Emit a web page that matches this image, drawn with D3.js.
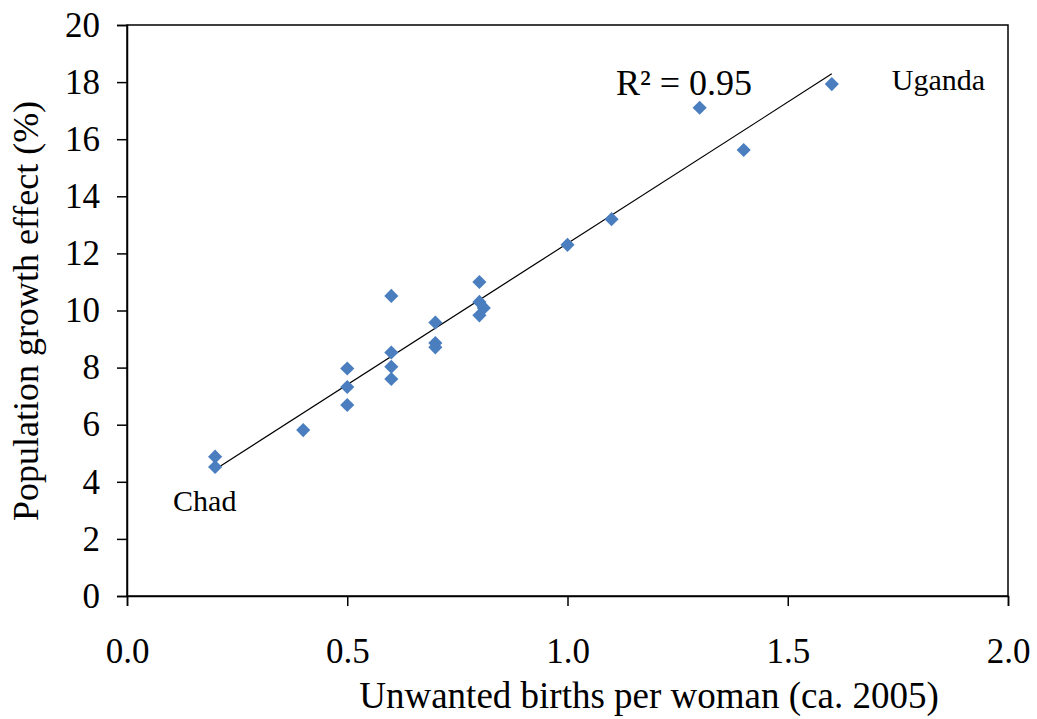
<!DOCTYPE html>
<html>
<head>
<meta charset="utf-8">
<script src="https://cdn.jsdelivr.net/npm/d3@7/dist/d3.min.js"></script>
<style>
  html, body { margin: 0; padding: 0; background: #fff; }
  svg text { font-family: "Liberation Serif", "Times New Roman", serif; fill: #000; }
</style>
</head>
<body>
<svg id="chart" width="1037" height="719"></svg>
<script>
// Data
const unwantedBirths = [0.2, 0.2, 0.4, 0.5, 0.5, 0.5, 0.6, 0.6, 0.6, 0.6, 0.7, 0.7, 0.7, 0.8, 0.8, 0.81, 0.8, 1.0, 1.1, 1.3, 1.4, 1.6];
const growthEffect   = [4.88, 4.52, 5.81, 7.97, 7.32, 6.69, 10.51, 8.53, 8.03, 7.60, 9.58, 8.86, 8.71, 11.0, 10.3, 10.09, 9.83, 12.3, 13.2, 17.1, 15.62, 17.93];
const xTicks = [0.0, 0.5, 1.0, 1.5, 2.0];
const yTicks = [0, 2, 4, 6, 8, 10, 12, 14, 16, 18, 20];
const labels = [
  { name: "Chad", x: 0.2, y: 4.52 },
  { name: "Uganda", x: 1.6, y: 17.93 }
];
const r2Text = "R\u00B2 = 0.95";

const svg = d3.select("#chart");
const m = { left: 127, top: 25, right: 1037 - 1008, bottom: 719 - 596 };
const W = 1037, H = 719;

const x = d3.scaleLinear().domain([0, 2]).range([m.left, W - m.right]);
const y = d3.scaleLinear().domain([0, 20]).range([H - m.bottom, m.top]);

// plot border
svg.append("rect")
  .attr("x", x(0)).attr("y", y(20))
  .attr("width", x(2) - x(0)).attr("height", y(0) - y(20))
  .attr("fill", "none").attr("stroke", "#000").attr("stroke-width", 1.5);

// axes
const yAxis = d3.axisLeft(y).tickValues(yTicks).tickSize(10).tickPadding(17).tickFormat(d3.format("d"));
const xAxis = d3.axisBottom(x).tickValues(xTicks).tickSize(10).tickPadding(32).tickFormat(d3.format(".1f"));

const gy = svg.append("g").attr("transform", `translate(${x(0)},0)`).call(yAxis);
const gx = svg.append("g").attr("transform", `translate(0,${y(0)})`).call(xAxis);
[gx, gy].forEach(g => {
  g.select(".domain").attr("stroke", "#000").attr("stroke-width", 1.5);
  g.selectAll(".tick line").attr("stroke", "#000").attr("stroke-width", 1.5);
  g.selectAll(".tick text").style("font-family", '"Liberation Serif", serif').style("font-size", "35px").attr("fill", "#000");
});

// linear regression trend line
const n = unwantedBirths.length;
const mx = d3.mean(unwantedBirths), my = d3.mean(growthEffect);
let sxy = 0, sxx = 0;
for (let i = 0; i < n; i++) {
  sxy += (unwantedBirths[i] - mx) * (growthEffect[i] - my);
  sxx += (unwantedBirths[i] - mx) ** 2;
}
const slope = sxy / sxx, intercept = my - slope * mx;
const x0 = d3.min(unwantedBirths), x1 = d3.max(unwantedBirths);
svg.append("line")
  .attr("x1", x(x0)).attr("y1", y(intercept + slope * x0))
  .attr("x2", x(x1)).attr("y2", y(intercept + slope * x1))
  .attr("stroke", "#000").attr("stroke-width", 1.2);

// points
const sym = d3.symbol().type(d3.symbolSquare).size(100);
svg.append("g").selectAll("path")
  .data(unwantedBirths.map((v, i) => [v, growthEffect[i]]))
  .join("path")
  .attr("d", sym)
  .attr("transform", d => `translate(${x(d[0])},${y(d[1])}) rotate(45)`)
  .attr("fill", "#4a7ebf");

// annotations
svg.append("text").attr("x", 616).attr("y", 95).style("font-size", "36px").text(r2Text);
svg.append("text").attr("x", x(labels[0].x) - 42).attr("y", y(labels[0].y) + 44).style("font-size", "30px").text(labels[0].name);
svg.append("text").attr("x", x(labels[1].x) + 60).attr("y", y(labels[1].y) + 6).style("font-size", "30px").text(labels[1].name);

// axis titles
svg.append("text").attr("x", 649).attr("y", 708)
  .attr("text-anchor", "middle").style("font-size", "37px")
  .text("Unwanted births per woman (ca. 2005)");
svg.append("text").attr("transform", `translate(38,311) rotate(-90)`)
  .attr("text-anchor", "middle").style("font-size", "36px")
  .text("Population growth effect (%)");
</script>
</body>
</html>
